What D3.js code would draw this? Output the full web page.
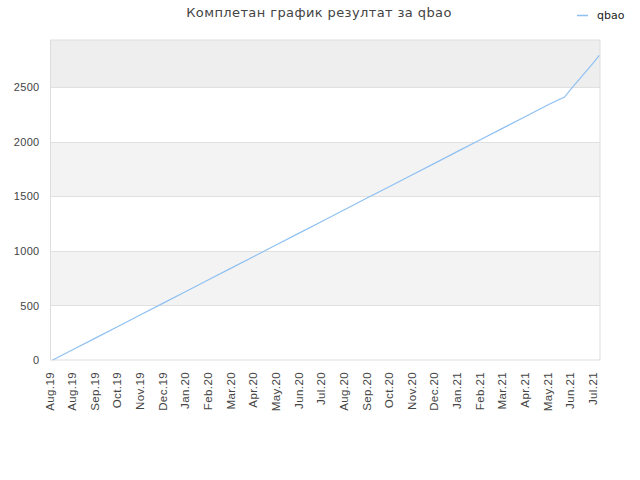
<!DOCTYPE html>
<html>
<head>
<meta charset="utf-8">
<script src="https://cdn.jsdelivr.net/npm/d3@7"></script>
<style>
  body { margin: 0; background: #fff; }
  svg { font-family: "DejaVu Sans", sans-serif; }
</style>
</head>
<body>
<svg id="chart" width="640" height="480"></svg>
<script>
var title = "Комплетан график резултат за qbao";
var seriesName = "qbao";

// dates of the tick marks and their labels
var tickDates = ["2019-08-01","2019-08-31","2019-09-30","2019-10-30","2019-11-29","2019-12-29",
  "2020-01-28","2020-02-27","2020-03-28","2020-04-27","2020-05-27","2020-06-26","2020-07-26",
  "2020-08-25","2020-09-24","2020-10-24","2020-11-23","2020-12-23","2021-01-22","2021-02-21",
  "2021-03-23","2021-04-22","2021-05-22","2021-06-21","2021-07-21"];
var tickLabels = ["Aug.19","Aug.19","Sep.19","Oct.19","Nov.19","Dec.19","Jan.20","Feb.20",
  "Mar.20","Apr.20","May.20","Jun.20","Jul.20","Aug.20","Sep.20","Oct.20","Nov.20","Dec.20",
  "Jan.21","Feb.21","Mar.21","Apr.21","May.21","Jun.21","Jul.21"];

// series
var dates = ["2019-08-04","2019-08-31","2019-09-30","2019-10-30","2019-11-29","2019-12-29",
  "2020-01-28","2020-02-27","2020-03-28","2020-04-27","2020-05-27","2020-06-26","2020-07-26",
  "2020-08-25","2020-09-24","2020-10-24","2020-11-23","2020-12-23","2021-01-22","2021-02-21",
  "2021-03-23","2021-04-22","2021-05-22","2021-06-12","2021-06-21","2021-07-21","2021-07-28"];
var values = [0, 96, 203, 310, 417, 524, 631, 738, 845, 952, 1060, 1166, 1273, 1380, 1488,
  1594, 1701, 1808, 1916, 2023, 2129, 2236, 2344, 2411, 2488, 2733, 2793];

var yTicks = [0, 500, 1000, 1500, 2000, 2500];
var yMax = 2935;

var parse = d3.timeParse("%Y-%m-%d");
var data = dates.map(function(d, i) { return { date: parse(d), value: values[i] }; });

var margin = { top: 40, right: 40, bottom: 120, left: 50.5 },
    width = 640 - margin.left - margin.right,
    height = 480 - margin.top - margin.bottom;

var svg = d3.select("#chart");
var g = svg.append("g").attr("transform", "translate(" + margin.left + "," + margin.top + ")");

var x = d3.scaleTime()
    .domain([parse("2019-08-01"), parse("2021-07-29")])
    .range([0, width]);
var y = d3.scaleLinear()
    .domain([0, yMax])
    .range([height, 0]);

// alternating bands
var bands = yTicks.map(function(t, i) {
  return { from: t, to: i < yTicks.length - 1 ? yTicks[i + 1] : yMax, i: i };
});
g.selectAll("rect.band")
  .data(bands)
  .enter().append("rect")
  .attr("class", "band")
  .attr("x", 0)
  .attr("width", width)
  .attr("y", function(d) { return y(d.to); })
  .attr("height", function(d) { return y(d.from) - y(d.to); })
  .attr("fill", function(d) {
    if (d.i === bands.length - 1) return "#eeeeee";
    return d.i % 2 ? "#f3f3f3" : "#ffffff";
  });

// grid lines
g.selectAll("line.grid")
  .data(yTicks.slice(1))
  .enter().append("line")
  .attr("class", "grid")
  .attr("x1", 0).attr("x2", width)
  .attr("y1", function(d) { return Math.round(y(d)) + 0.5; })
  .attr("y2", function(d) { return Math.round(y(d)) + 0.5; })
  .attr("stroke", "#e0e0e0");

// frame
g.append("rect")
  .attr("x", 0).attr("y", 0)
  .attr("width", width).attr("height", height)
  .attr("fill", "none")
  .attr("stroke", "#dddddd");

// y axis labels
var yAxis = g.append("g")
  .call(d3.axisLeft(y).tickValues(yTicks).tickFormat(d3.format("d")).tickSize(0).tickPadding(11));
yAxis.select(".domain").remove();
yAxis.selectAll("text")
  .attr("fill", "#444")
  .style("font-size", "11px")
  .style("letter-spacing", "0.3px");

// x axis labels
var xAxis = g.append("g")
  .attr("transform", "translate(0," + height + ")")
  .call(d3.axisBottom(x)
    .tickValues(tickDates.map(parse))
    .tickFormat(function(d, i) { return tickLabels[i]; })
    .tickSize(0));
xAxis.select(".domain").remove();
xAxis.selectAll("text")
  .attr("fill", "#444")
  .style("font-size", "11.5px")
  .style("letter-spacing", "0.4px")
  .attr("text-anchor", "end")
  .attr("transform", "rotate(-90)")
  .attr("x", -12)
  .attr("y", -1.5)
  .attr("dy", "0.35em");

// series line
var line = d3.line()
  .x(function(d) { return x(d.date); })
  .y(function(d) { return y(d.value); });
g.append("path")
  .datum(data)
  .attr("d", line)
  .attr("fill", "none")
  .attr("stroke", "#8fc0f2")
  .attr("stroke-width", 1.2);

// title
svg.append("text")
  .attr("x", 319).attr("y", 17)
  .attr("text-anchor", "middle")
  .attr("fill", "#444")
  .style("font-size", "13px")
  .style("letter-spacing", "0.4px")
  .text(title);

// legend
svg.append("line")
  .attr("x1", 577).attr("x2", 588)
  .attr("y1", 15.5).attr("y2", 15.5)
  .attr("stroke", "#8fc0f2")
  .attr("stroke-width", 1.5);
svg.append("text")
  .attr("x", 597).attr("y", 19)
  .attr("fill", "#222")
  .style("font-size", "11px")
  .text(seriesName);
</script>
</body>
</html>
